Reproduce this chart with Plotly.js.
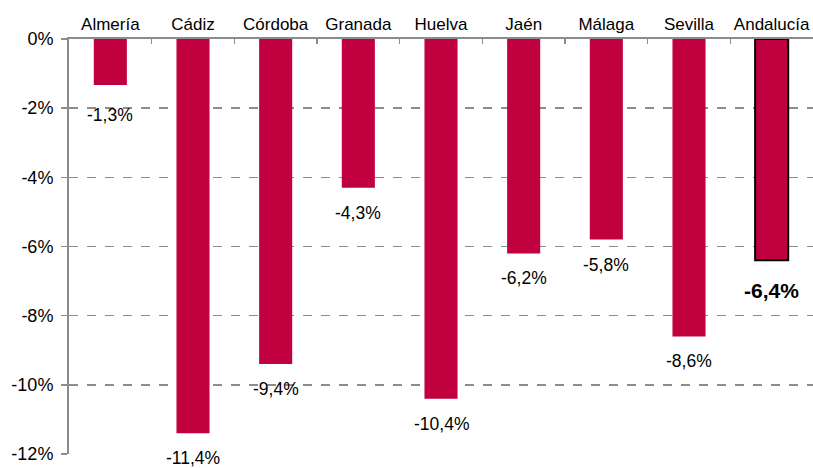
<!DOCTYPE html>
<html>
<head>
<meta charset="utf-8">
<script src="https://cdn.plot.ly/plotly-3.0.1.min.js"></script>
<style>html,body{margin:0;padding:0;background:#fff;}#chart{width:813px;height:468px;}</style>
</head>
<body>
<div id="chart"></div>
<script>
const categories = ["Almería","Cádiz","Córdoba","Granada","Huelva","Jaén","Málaga","Sevilla","Andalucía"];
const values = [-1.33,-11.4,-9.4,-4.3,-10.4,-6.2,-5.8,-8.6,-6.4];
const labels = ["-1,3%","-11,4%","-9,4%","-4,3%","-10,4%","-6,2%","-5,8%","-8,6%","-6,4%"];
const yTickVals = [0,-2,-4,-6,-8,-10,-12];
const yTickText = ["0%","-2%","-4%","-6%","-8%","-10%","-12%"];

const barColor = "#C0003F";
const lineColors = categories.map((c,i)=> i===categories.length-1 ? "#000" : barColor);
const lineWidths = categories.map((c,i)=> i===categories.length-1 ? 2 : 0);

const trace = {
  type: "bar",
  x: categories,
  y: values,
  width: 0.4,
  marker: {color: barColor, line: {color: lineColors, width: lineWidths}},
  hoverinfo: "none"
};

const annotations = categories.map((c,i)=>{
  const last = i===categories.length-1;
  return {
    x: c, y: values[i], xref:"x", yref:"y",
    text: last ? "<b>"+labels[i]+"</b>" : labels[i],
    showarrow:false, yanchor:"middle", yshift: last ? -30 : (i===0 ? -30 : -25),
    font:{family:"Liberation Sans, Arial, sans-serif", size: last?21:17.5, color:"#000"}
  };
});

const layout = {
  width: 813, height: 468,
  margin: {l:69, r:0, t:39, b:14},
  paper_bgcolor:"#fff", plot_bgcolor:"#fff",
  showlegend:false,
  font:{family:"Liberation Sans, Arial, sans-serif", size:17, color:"#000"},
  xaxis: {
    side:"top", type:"category", tickangle:0,
    showline:true, linecolor:"#8c8c8c", linewidth:2,
    ticks:"inside", tickson:"boundaries", ticklen:5, tickcolor:"#8c8c8c", tickwidth:1.5,
    showgrid:false, zeroline:false,
    tickfont:{size:17, color:"#000"}
  },
  yaxis: {
    range:[-12,0], tickvals:yTickVals, ticktext:yTickText,
    showline:true, linecolor:"#8c8c8c", linewidth:2,
    ticks:"outside", ticklen:6, tickcolor:"#8c8c8c", tickwidth:1.5,
    showgrid:true, gridcolor:"#8c8c8c", griddash:"dash", gridwidth:1.5,
    zeroline:false, tickfont:{size:18, color:"#000"}, ticklabelstandoff:4
  },
  annotations: annotations
};

Plotly.newPlot("chart",[trace],layout,{displayModeBar:false, staticPlot:true});
</script>
</body>
</html>
